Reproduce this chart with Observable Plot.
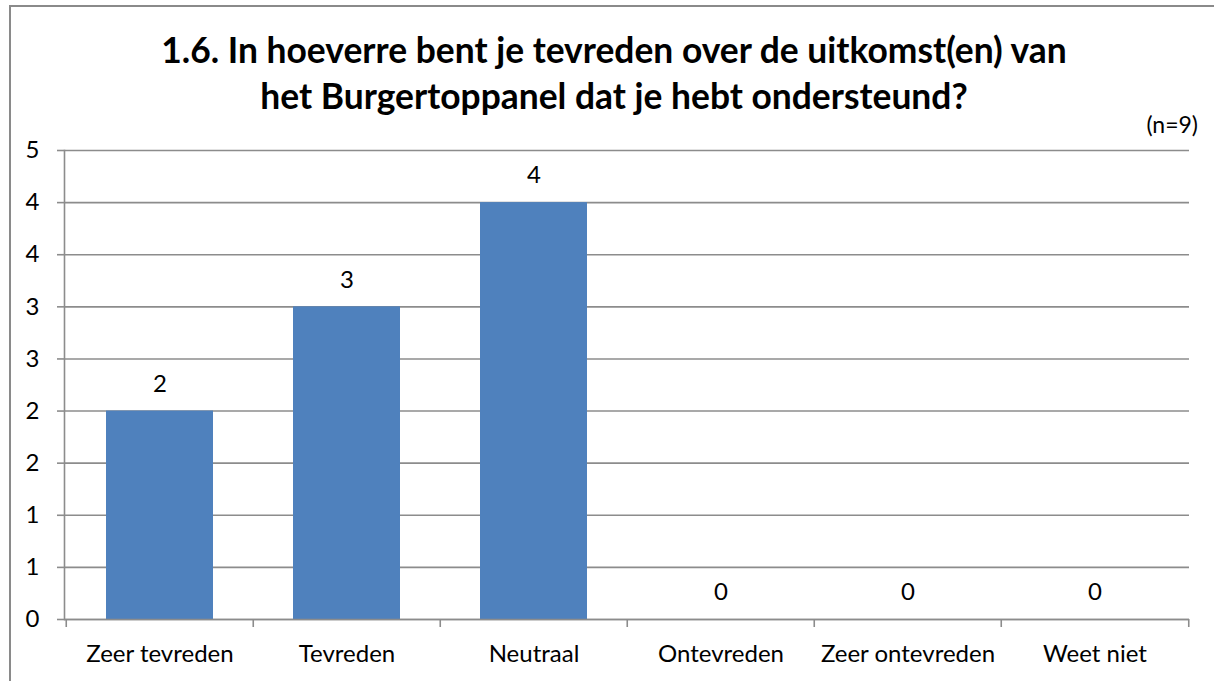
<!DOCTYPE html>
<html>
<head>
<meta charset="utf-8">
<script src="https://cdn.jsdelivr.net/npm/d3@7"></script>
<script src="https://cdn.jsdelivr.net/npm/@observablehq/plot@0.6"></script>
<style>
  html, body { margin: 0; padding: 0; background: #fff; }
  #wrap { position: relative; width: 1214px; height: 681px; overflow: hidden; font-family: Lato, "Liberation Sans", sans-serif; }
  #border { position: absolute; left: 9px; top: 5px; width: 1230px; height: 700px; border: 2px solid #8a8a8a; box-sizing: border-box; }
  #title { position: absolute; left: 0; width: 1228px; top: 27px; text-align: center; font-weight: bold; font-size: 35.4px; line-height: 46px; color: #000; }
  #n { position: absolute; right: 16px; top: 110px; font-size: 23px; color: #000; }
  #chart { position: absolute; left: 0; top: 0; }
</style>
</head>
<body>
<div id="wrap">
  <div id="border"></div>
  <div id="chart"></div>
  <div id="title">1.6. In hoeverre bent je tevreden over de uitkomst(en) van<br>het Burgertoppanel dat je hebt ondersteund?</div>
  <div id="n">(n=9)</div>
</div>
<script>
const categories = ["Zeer tevreden", "Tevreden", "Neutraal", "Ontevreden", "Zeer ontevreden", "Weet niet"];
const values = [2, 3, 4, 0, 0, 0];
const yTickValues = [0, 0.5, 1, 1.5, 2, 2.5, 3, 3.5, 4, 4.5];
const yTickLabels = ["0", "1", "1", "2", "2", "3", "3", "4", "4", "5"];

const data = categories.map((c, i) => ({cat: c, val: values[i]}));

const W = 1214, H = 681, ML = 64, MR = 25, MT = 150, MB = 62;
const step = (W - ML - MR) / categories.length;
const gridColor = "#8c8c8c";

const chart = Plot.plot({
  width: W,
  height: H,
  marginLeft: ML,
  marginRight: MR,
  marginTop: MT,
  marginBottom: MB,
  style: {fontFamily: "Lato, 'Liberation Sans', sans-serif", fontSize: "24px", color: "#000", background: "transparent"},
  x: {domain: categories, paddingInner: 0.43, paddingOuter: 0.215, label: null},
  y: {domain: [0, 4.5], label: null},
  marks: [
    Plot.gridY(yTickValues, {stroke: gridColor, strokeOpacity: 1, strokeWidth: 1.6}),
    Plot.barY(data, {x: "cat", y: "val", fill: "#4F81BD"}),
    Plot.ruleY([0], {stroke: gridColor, strokeWidth: 1.6}),
    Plot.frame({anchor: "left", stroke: gridColor, strokeWidth: 1.6}),
    Plot.axisY({ticks: yTickValues, tickFormat: (d) => yTickLabels[yTickValues.indexOf(d)], tickSize: 7, tickPadding: 18, stroke: gridColor, strokeWidth: 1.6, label: null}),
    Plot.axisX({tickSize: 0, tickPadding: 25, label: null}),
    Plot.ruleX(categories, {x: (d) => d, y1: 0, y2: 0, insetBottom: -8, dx: -step / 2, stroke: gridColor, strokeWidth: 1.6}),
    Plot.ruleX(categories.slice(-1), {x: (d) => d, y1: 0, y2: 0, insetBottom: -8, dx: step / 2, stroke: gridColor, strokeWidth: 1.6}),
    Plot.text(data, {x: "cat", y: "val", text: (d) => String(d.val), dy: -27, fill: "#000", fontSize: 24})
  ]
});
document.getElementById("chart").appendChild(chart);
</script>
</body>
</html>
